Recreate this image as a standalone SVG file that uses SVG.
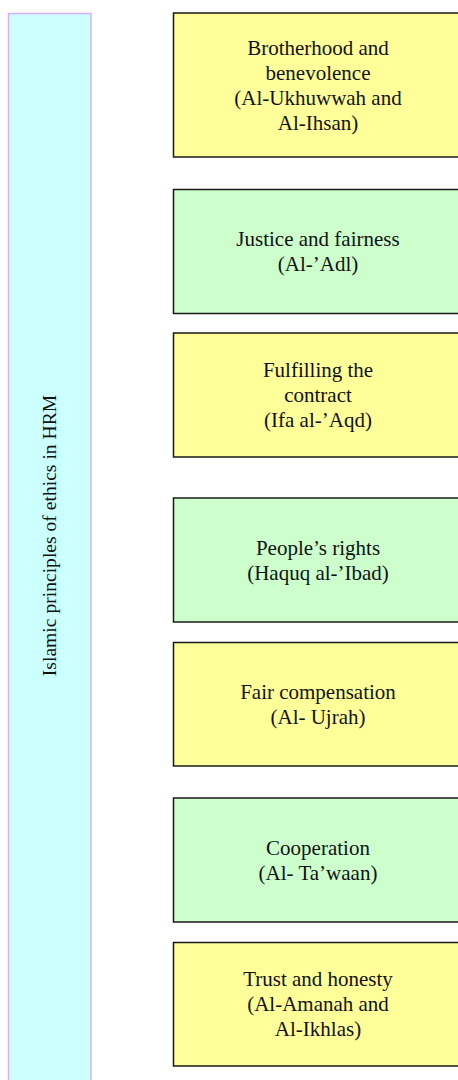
<svg xmlns="http://www.w3.org/2000/svg" width="458" height="1080" viewBox="0 0 458 1080">
<style>
.box{stroke:#1a1a1a;stroke-width:1.5}
.y{fill:#ffff99}
.g{fill:#ccffcc}
text{font-family:"Liberation Serif","Times New Roman",serif;font-size:21px;fill:#111;text-anchor:middle}
.v{font-size:19.6px}
</style>
<g id="connectors"></g>
<g id="root">
<rect x="8.5" y="13.5" width="82.5" height="1080" fill="#ccffff" stroke="#d4b0ff" stroke-width="1.5"/>
<text class="v" transform="translate(56,535.5) rotate(-90)">Islamic principles of ethics in HRM</text>
</g>
<g id="n1">
<rect class="box y" x="173.5" y="13" width="300" height="144"/>
<text x="318" y="54.5">Brotherhood and</text>
<text x="318" y="79.5">benevolence</text>
<text x="318" y="104.5">(Al-Ukhuwwah and</text>
<text x="318" y="129.5">Al-Ihsan)</text>
</g>
<g id="n2">
<rect class="box g" x="173.5" y="189.5" width="300" height="124"/>
<text x="318" y="246">Justice and fairness</text>
<text x="318" y="271">(Al-’Adl)</text>
</g>
<g id="n3">
<rect class="box y" x="173.5" y="333" width="300" height="124"/>
<text x="318" y="377">Fulfilling the</text>
<text x="318" y="402">contract</text>
<text x="318" y="427">(Ifa al-’Aqd)</text>
</g>
<g id="n4">
<rect class="box g" x="173.5" y="498" width="300" height="124"/>
<text x="318" y="554.5">People’s rights</text>
<text x="318" y="579.5">(Haquq al-’Ibad)</text>
</g>
<g id="n5">
<rect class="box y" x="173.5" y="642.5" width="300" height="123.5"/>
<text x="318" y="699">Fair compensation</text>
<text x="318" y="724">(Al- Ujrah)</text>
</g>
<g id="n6">
<rect class="box g" x="173.5" y="798" width="300" height="124"/>
<text x="318" y="854.5">Cooperation</text>
<text x="318" y="879.5">(Al- Ta’waan)</text>
</g>
<g id="n7">
<rect class="box y" x="173.5" y="942.5" width="300" height="123.5"/>
<text x="318" y="986">Trust and honesty</text>
<text x="318" y="1011">(Al-Amanah and</text>
<text x="318" y="1036">Al-Ikhlas)</text>
</g>
</svg>
